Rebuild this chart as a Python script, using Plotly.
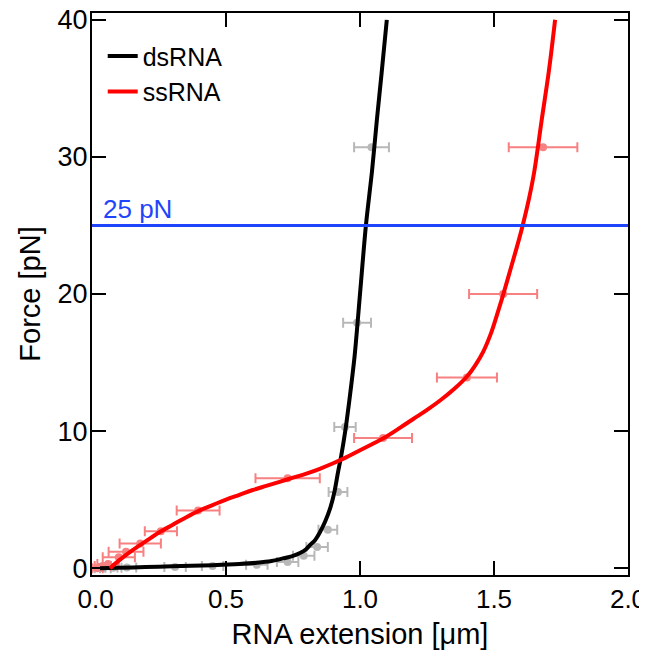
import plotly.graph_objects as go

# ---- fitted curves ----
ds_x = [0.03, 0.10, 0.20, 0.30, 0.37, 0.45, 0.55, 0.615, 0.67, 0.715, 0.75, 0.776, 0.80, 0.813, 0.832,
        0.85, 0.87, 0.89, 0.905, 0.918, 0.93, 0.945, 0.96, 0.98, 1.0, 1.022, 1.045, 1.063, 1.08, 1.10]
ds_y = [0.0, 0.03, 0.08, 0.13, 0.18, 0.22, 0.30, 0.39, 0.52, 0.72, 0.90, 1.1, 1.4, 1.68, 2.04,
        2.6, 3.4, 4.45, 5.6, 7.0, 8.2, 10.0, 12.2, 15.5, 20.0, 25.0, 29.0, 32.7, 36.0, 40.0]

ss_x = [0.067, 0.10, 0.15, 0.20, 0.25, 0.30, 0.35, 0.40, 0.45, 0.50, 0.55, 0.60, 0.65, 0.70, 0.75,
        0.80, 0.85, 0.90, 0.95, 1.00, 1.05, 1.087, 1.15, 1.20, 1.249, 1.30, 1.35, 1.40, 1.43, 1.46,
        1.49, 1.51, 1.535, 1.56, 1.585, 1.607, 1.63, 1.65, 1.678, 1.705, 1.728]
ss_y = [0.0, 0.55, 1.3, 1.95, 2.6, 3.15, 3.7, 4.2, 4.6, 5.0, 5.35, 5.7, 6.0, 6.3, 6.6,
        6.9, 7.25, 7.65, 8.1, 8.6, 9.1, 9.47, 10.25, 10.9, 11.53, 12.25, 13.05, 14.0, 14.8, 15.8,
        17.2, 18.4, 20.0, 21.7, 23.4, 25.0, 26.9, 28.9, 32.7, 36.3, 40.0]

# ---- measured points with x error bars ----
ds_pts_x = [0.01, 0.04, 0.08, 0.13, 0.31, 0.45, 0.615, 0.73, 0.79, 0.84, 0.88, 0.918, 0.944, 0.989, 1.043]
ds_pts_y = [0.0, 0.0, 0.02, 0.04, 0.08, 0.15, 0.25, 0.45, 0.9, 1.55, 2.8, 5.55, 10.3, 17.9, 30.7]
ds_pts_e = [0.02, 0.03, 0.03, 0.035, 0.04, 0.04, 0.04, 0.04, 0.04, 0.04, 0.035, 0.035, 0.04, 0.052, 0.065]

ss_pts_x = [0.02, 0.04, 0.06, 0.10, 0.127, 0.18, 0.257, 0.396, 0.73, 1.086, 1.399, 1.534, 1.683]
ss_pts_y = [0.0, 0.15, 0.3, 0.8, 1.2, 1.8, 2.7, 4.2, 6.55, 9.5, 13.9, 20.0, 30.7]
ss_pts_e = [0.02, 0.03, 0.04, 0.06, 0.065, 0.077, 0.06, 0.08, 0.12, 0.108, 0.112, 0.127, 0.128]

x_ticks = [0.0, 0.5, 1.0, 1.5, 2.0]
x_tick_labels = ["\u00a00.0", "0.5", "1.0", "1.5", "2.0"]
y_ticks = [0, 10, 20, 30, 40]
ref_force = 25

FONT = "Arial, Liberation Sans, sans-serif"

fig = go.Figure()

fig.add_trace(go.Scatter(
    x=ds_pts_x, y=ds_pts_y, mode="markers", showlegend=False,
    marker=dict(color="#b8b8b8", size=8),
    error_x=dict(type="data", array=ds_pts_e, color="#b8b8b8", thickness=2, width=5)))
fig.add_trace(go.Scatter(
    x=ss_pts_x, y=ss_pts_y, mode="markers", showlegend=False,
    marker=dict(color="#f78080", size=8),
    error_x=dict(type="data", array=ss_pts_e, color="#f78080", thickness=2, width=5)))

fig.add_trace(go.Scatter(
    x=ds_x, y=ds_y, mode="lines", name="dsRNA",
    line=dict(color="black", width=4, shape="spline", smoothing=0.8)))
fig.add_trace(go.Scatter(
    x=ss_x, y=ss_y, mode="lines", name="ssRNA",
    line=dict(color="#ff0000", width=4, shape="spline", smoothing=1.0)))

fig.add_shape(type="line", xref="paper", x0=0, x1=1, yref="y", y0=ref_force, y1=ref_force,
              line=dict(color="#1f45fc", width=3))
fig.add_annotation(xref="paper", x=0.0, yref="y", y=ref_force, text="25 pN",
                   showarrow=False, xanchor="left", yanchor="bottom", yshift=-1, xshift=9,
                   font=dict(color="#1f45fc", size=26, family=FONT))

# the page body has an 8px margin, so the figure is sized/offset to fit the 647x658 window
fig.update_layout(
    width=639, height=642,
    margin=dict(l=84, r=19, t=5, b=75),
    paper_bgcolor="white", plot_bgcolor="white",
    font=dict(family=FONT, size=27, color="black"),
    legend=dict(x=0.02, y=0.964, xanchor="left", yanchor="top", bgcolor="rgba(0,0,0,0)",
                font=dict(size=25), tracegroupgap=0),
)
fig.update_xaxes(
    range=[0, 2], tickvals=x_ticks, ticktext=x_tick_labels, ticklabeloverflow="allow",
    tickfont=dict(size=26),
    ticks="inside", ticklen=14, tickwidth=2, tickcolor="black",
    showline=True, linecolor="black", linewidth=2, mirror="ticks",
    showgrid=False, zeroline=False, automargin=False,
    title=dict(text="RNA extension [μm]", font=dict(size=29), standoff=18))
fig.update_yaxes(
    range=[-0.5, 40.5], tickvals=y_ticks, ticktext=[str(v) for v in y_ticks],
    ticklabeloverflow="allow",
    ticks="inside", ticklen=14, tickwidth=2, tickcolor="black", ticklabelstandoff=-3,
    showline=True, linecolor="black", linewidth=2, mirror="ticks",
    showgrid=False, zeroline=False, automargin=False,
    title=dict(text="Force [pN]", font=dict(size=29), standoff=8))

fig.write_html("out.html")
